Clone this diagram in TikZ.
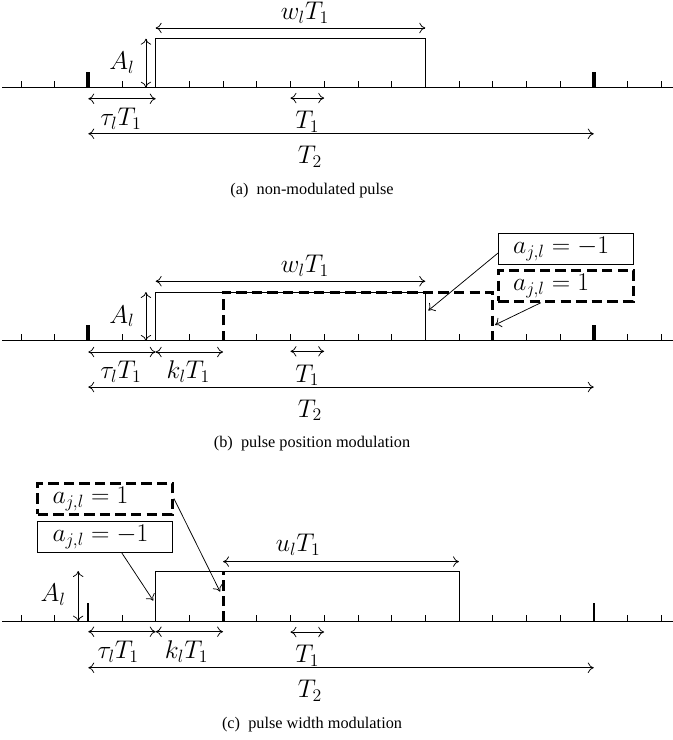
\RequirePackage{fix-cm}
\documentclass[tikz,border=0pt]{standalone}
\usepackage{amsmath}
\usepackage{fontspec}
\newfontfamily\capfont{Liberation Serif}
\usepackage{tikz}
\usetikzlibrary{calc,positioning,arrows.meta}

\begin{document}
\begin{tikzpicture}[x=0.8cm,y=0.8cm,>={To[length=4pt,width=7pt]},
    axisline/.style={line width=0.6pt},
    tickmark/.style={line width=0.5pt},
    slotmark/.style={line width=2.6pt},
    slotmarkthin/.style={line width=1.3pt},
    pulseline/.style={line width=0.6pt},
    shiftline/.style={line width=2pt,dash pattern=on 7pt off 3.5pt},
    dimarrow/.style={<->,line width=0.5pt},
    dimlabel/.style={font=\fontsize{17.28}{21}\selectfont,inner sep=0pt},
    callout/.style={->,line width=0.5pt},
    symbox/.style={draw,line width=0.6pt,font=\fontsize{17.28}{21}\selectfont,
                   text width=71pt,align=left,inner xsep=10pt,minimum height=21pt,
                   inner ysep=1pt},
    capnode/.style={font=\capfont\fontsize{11}{13}\selectfont}]
  \useasboundingbox (-2.62,-19.36) rectangle (17.35,2.6);

  \draw[axisline] (-2.55,0) -- (17.35,0);
  \foreach \k in {-2,...,17} \draw[tickmark] (\k,0) -- (\k,0.2);
  \foreach \k in {0,15} \draw[slotmark] (\k,0) -- (\k,0.475);
  \draw[pulseline] (2,0) -- (2,1.45) -- (10,1.45) -- (10,0);
  \draw[dimarrow] (2,1.77) -- (10,1.77);
  \node[dimlabel] (wa) at (6.43,2.22) {$w_lT_1$};
  \draw[dimarrow] (1.71,0) -- (1.71,1.45);
  \node[dimlabel] (aa) at (1,0.73) {$A_l$};
  \draw[dimarrow] (0,-0.33) -- (2,-0.33);
  \node[dimlabel] (taua) at (0.97,-0.92) {$\tau_lT_1$};
  \draw[dimarrow] (6,-0.31) -- (7,-0.31);
  \node[dimlabel] (ta) at (6.5,-1.02) {$T_1$};
  \draw[dimarrow] (0,-1.37) -- (15,-1.37);
  \node[dimlabel] (tta) at (6.58,-2.06) {$T_2$};
  \node[capnode] (capa) at (6.64,-3.05) {(a)\enspace non-modulated pulse};

  \begin{scope}[shift={(0,-7.516)}]
    \draw[axisline] (-2.55,0) -- (17.35,0);
    \foreach \k in {-2,...,17} \draw[tickmark] (\k,0) -- (\k,0.2);
    \foreach \k in {0,15} \draw[slotmark] (\k,0) -- (\k,0.475);
    \draw[pulseline] (2,0) -- (2,1.45) -- (10,1.45) -- (10,0);
    \draw[shiftline] (4,0) -- (4,1.45) -- (12,1.45) -- (12,0);
    \draw[dimarrow] (2,1.77) -- (10,1.77);
    \node[dimlabel] (wb) at (6.43,2.22) {$w_lT_1$};
    \draw[dimarrow] (1.71,0) -- (1.71,1.45);
    \node[dimlabel] (ab) at (1,0.73) {$A_l$};
    \draw[dimarrow] (0,-0.33) -- (2,-0.33);
    \node[dimlabel] (taub) at (0.97,-0.92) {$\tau_lT_1$};
    \draw[dimarrow] (2,-0.33) -- (4,-0.33);
    \node[dimlabel] (kb) at (2.97,-0.92) {$k_lT_1$};
    \draw[dimarrow] (6,-0.31) -- (7,-0.31);
    \node[dimlabel] (tb) at (6.5,-1.02) {$T_1$};
    \draw[dimarrow] (0,-1.37) -- (15,-1.37);
    \node[dimlabel] (ttb) at (6.58,-2.06) {$T_2$};
    \node[capnode] (capb) at (6.64,-3.05) {(b)\enspace pulse position modulation};
    \node[symbox] (bneg) at (14.17,2.736) {$a_{j,l}=-1$};
    \node[symbox,shiftline,below=2.7pt of bneg] (bpos) {$a_{j,l}=1$};
    \coordinate (bnegtip) at (10.09,0.9);
    \coordinate (bpostip) at (12.07,0.475);
    \draw[callout] ($(bneg.west)+(0,-0.13)$) -- (bnegtip);
    \draw[callout] ($(bpos.south)+(-0.74,0)$) -- (bpostip);
  \end{scope}

  \begin{scope}[shift={(0,-15.846)}]
    \draw[axisline] (-2.55,0) -- (17.35,0);
    \foreach \k in {-2,...,17} \draw[tickmark] (\k,0) -- (\k,0.2);
    \foreach \k in {0,15} \draw[slotmarkthin] (\k,0) -- (\k,0.55);
    \draw[pulseline] (2,0) -- (2,1.5) -- (11,1.5) -- (11,0);
    \draw[shiftline] (4,0) -- (4,1.5);
    \draw[dimarrow] (4,1.78) -- (11,1.78);
    \node[dimlabel] (uc) at (6.23,2.27) {$u_lT_1$};
    \draw[dimarrow] (-0.3,0) -- (-0.3,1.5);
    \node[dimlabel] (ac) at (-1.04,0.79) {$A_l$};
    \draw[dimarrow] (0,-0.3) -- (2,-0.3);
    \node[dimlabel] (tauc) at (0.89,-0.89) {$\tau_lT_1$};
    \draw[dimarrow] (2,-0.3) -- (4,-0.3);
    \node[dimlabel] (kc) at (2.92,-0.89) {$k_lT_1$};
    \draw[dimarrow] (6,-0.31) -- (7,-0.31);
    \node[dimlabel] (tc) at (6.5,-1.02) {$T_1$};
    \draw[dimarrow] (0,-1.37) -- (15,-1.37);
    \node[dimlabel] (ttc) at (6.58,-2.06) {$T_2$};
    \node[capnode] (capc) at (6.64,-3.05) {(c)\enspace pulse width modulation};
    \node[symbox] (cneg) at (0.5,2.52) {$a_{j,l}=-1$};
    \node[symbox,shiftline,above=3.4pt of cneg] (cpos) {$a_{j,l}=1$};
    \coordinate (cnegtip) at (1.93,0.62);
    \coordinate (cpostip) at (3.91,0.89);
    \draw[callout] ($(cneg.south)+(0.49,0)$) -- (cnegtip);
    \draw[callout] (cpos.east) -- (cpostip);
  \end{scope}
\end{tikzpicture}
\end{document}
